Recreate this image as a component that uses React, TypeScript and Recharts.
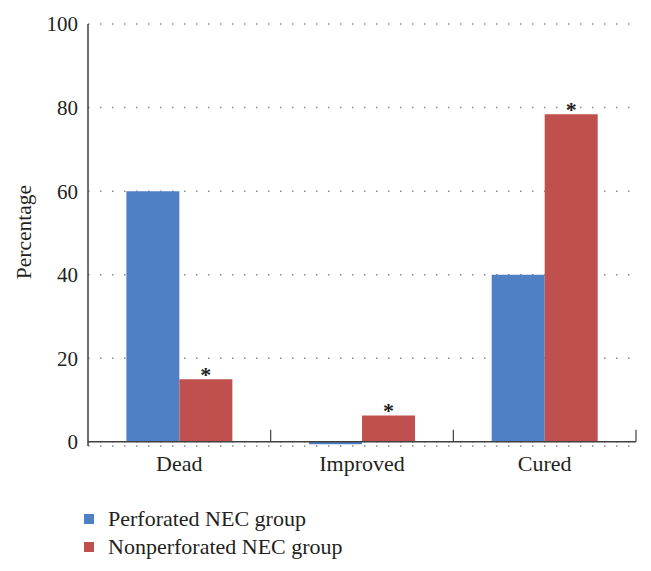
import React from "react";
import {
  BarChart,
  Bar,
  XAxis,
  YAxis,
  CartesianGrid,
  ReferenceLine,
  Legend,
  LabelList,
} from "recharts";

const categories = ["Dead", "Improved", "Cured"];
const perforated = [60, -0.6, 40];
const nonperforated = [15, 6.3, 78.4];
const significance = ["*", "*", "*"];
const yTicks = [0, 20, 40, 60, 80, 100];

const seriesNames = ["Perforated NEC group", "Nonperforated NEC group"];
const BLUE = "#4f7fc4";
const RED = "#c0504d";
const INK = "#231f20";
const AXIS = "#404040";
const FONT = "'Liberation Serif', 'DejaVu Serif', serif";

const W = 651;
const H = 571;
const MARGIN = { top: 24, right: 15, left: 0, bottom: 85 };
const Y_AXIS_W = 88;
const X_AXIS_H = 40;
const Y_MIN = -1;
const Y_MAX = 100;

const plotW = W - MARGIN.right - MARGIN.left - Y_AXIS_W;
const plotH = H - MARGIN.top - MARGIN.bottom - X_AXIS_H;
const band = plotW / categories.length;
// distance from bottom of plot to the zero line
const zeroOffset = (plotH * (0 - Y_MIN)) / (Y_MAX - Y_MIN);

const data = categories.map((name, i) => ({
  name,
  perforated: perforated[i],
  nonperforated: nonperforated[i],
  sig: significance[i],
}));

function CategoryTick({ x, y, payload }: any) {
  const zeroY = y - zeroOffset;
  const bx = x + band / 2;
  return (
    <g>
      <line x1={bx} x2={bx} y1={zeroY} y2={zeroY - 12} stroke={AXIS} strokeWidth={1.2} />
      <text
        x={x}
        y={zeroY + 29}
        textAnchor="middle"
        fill={INK}
        fontSize={22}
        fontFamily={FONT}
      >
        {payload.value}
      </text>
    </g>
  );
}

function StarLabel({ x, y, width, value }: any) {
  return (
    <text
      x={x + width / 2}
      y={y + 3}
      textAnchor="middle"
      fill={INK}
      fontSize={22}
      fontWeight="bold"
      fontFamily={FONT}
    >
      {value}
    </text>
  );
}

function YTitle({ viewBox }: any) {
  const cx = 24;
  const cy = viewBox.y + viewBox.height / 2 - 3;
  return (
    <text
      x={cx}
      y={cy}
      transform={`rotate(-90, ${cx}, ${cy})`}
      textAnchor="middle"
      dominantBaseline="central"
      fill={INK}
      fontSize={21.5}
      fontFamily={FONT}
    >
      Percentage
    </text>
  );
}

function LegendBox() {
  const colors = [BLUE, RED];
  return (
    <div style={{ fontFamily: FONT, fontSize: 22, color: INK }}>
      {seriesNames.map((n, i) => (
        <div key={n} style={{ display: "flex", alignItems: "center", height: 28 }}>
          <span
            style={{
              display: "inline-block",
              width: 10,
              height: 10,
              background: colors[i],
              marginRight: 14,
            }}
          />
          <span>{n}</span>
        </div>
      ))}
    </div>
  );
}

export default function App() {
  return (
    <div style={{ position: "absolute", left: 0, top: 0, width: W, height: H, background: "#fff" }}>
      <BarChart
        width={W}
        height={H}
        data={data}
        margin={MARGIN}
        barGap={0}
        barCategoryGap="21%"
      >
        <CartesianGrid
          horizontal
          vertical={false}
          stroke="#8a8a8a"
          strokeWidth={1.5}
          strokeDasharray="1.5 10.5"
        />
        <XAxis
          dataKey="name"
          height={X_AXIS_H}
          axisLine={false}
          tickLine={false}
          tickSize={0}
          tickMargin={0}
          tick={<CategoryTick />}
          interval={0}
        />
        <YAxis
          width={Y_AXIS_W}
          domain={[Y_MIN, Y_MAX]}
          ticks={yTicks}
          allowDataOverflow
          axisLine={{ stroke: AXIS, strokeWidth: 1.5 }}
          tickLine={false}
          tickSize={0}
          tickMargin={10}
          tick={{ fill: INK, fontSize: 21, fontFamily: FONT }}
          label={<YTitle />}
        />
        <ReferenceLine y={0} stroke={AXIS} strokeWidth={1.5} />
        <Bar dataKey="perforated" name={seriesNames[0]} fill={BLUE} isAnimationActive={false} />
        <Bar dataKey="nonperforated" name={seriesNames[1]} fill={RED} isAnimationActive={false}>
          <LabelList dataKey="sig" content={<StarLabel />} />
        </Bar>
        <Legend
          layout="vertical"
          align="center"
          verticalAlign="middle"
          content={<LegendBox />}
          wrapperStyle={{ top: 505, left: 84, width: 340 }}
        />
      </BarChart>
    </div>
  );
}
